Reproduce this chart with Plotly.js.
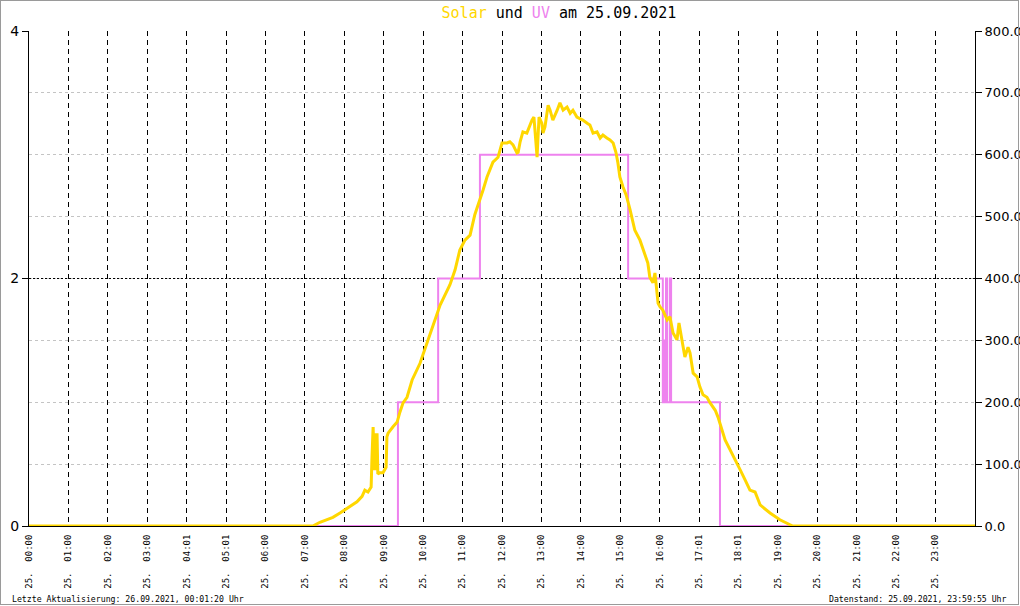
<!DOCTYPE html>
<html>
<head>
<meta charset="utf-8">
<script src="https://cdn.plot.ly/plotly-3.0.1.min.js"></script>
<style>
  html, body { margin: 0; padding: 0; background: #fff; }
  #wrap { position: relative; width: 1020px; height: 606px; }
  #chart { width: 1020px; height: 606px; }
  #frame { position: absolute; left: 0; top: 0; width: 1019px; height: 605px; box-sizing: border-box; border: 1px solid #9a9a9a; pointer-events: none; }
</style>
</head>
<body>
<div id="wrap"><div id="chart"></div><div id="frame"></div></div>
<script>
// Hour ticks and their labels
const tickHours = [0,1,2,3,4,5,6,7,8,9,10,11,12,13,14,15,16,17,18,19,20,21,22,23];
const tickTimes = ["00:00","01:00","02:00","03:00","04:01","05:01","06:00","07:00","08:00","09:00","10:00","11:00",
                   "12:00","13:00","14:00","15:00","16:00","17:01","18:01","19:00","20:00","21:00","22:00","23:00"];
const tickDay = "25.";

// Solar radiation (W/m²), time in hours of 25.09.2021
const solarHours = [0, 7.20, 7.38, 7.71, 7.89, 8.07, 8.32, 8.45, 8.52, 8.60, 8.68, 8.70, 8.73, 8.76, 8.78, 8.80, 8.83, 8.85,
  8.90, 8.98, 9.06, 9.08, 9.11, 9.23, 9.34, 9.41, 9.49, 9.59, 9.72, 9.92, 10.17, 10.30, 10.43, 10.68, 10.81, 10.93,
  11.06, 11.19, 11.31, 11.52, 11.62, 11.77, 11.90, 12.00, 12.13, 12.20, 12.28, 12.38, 12.41, 12.46, 12.53, 12.63,
  12.66, 12.76, 12.81, 12.84, 12.89, 12.91, 12.94, 13.01, 13.04, 13.09, 13.14, 13.17, 13.22, 13.29, 13.40, 13.47,
  13.55, 13.65, 13.73, 13.80, 13.90, 13.98, 14.05, 14.16, 14.23, 14.31, 14.41, 14.49, 14.56, 14.66, 14.74, 14.82,
  14.89, 14.94, 14.99, 15.07, 15.15, 15.25, 15.37, 15.50, 15.58, 15.70, 15.75, 15.83, 15.88, 15.93, 15.96, 16.01,
  16.08, 16.19, 16.26, 16.34, 16.44, 16.49, 16.57, 16.64, 16.72, 16.77, 16.85, 16.95, 17.02, 17.10, 17.20, 17.28,
  17.41, 17.48, 17.66, 17.78, 17.91, 18.04, 18.17, 18.29, 18.42, 18.55, 18.80, 19.05, 19.31, 19.38, 24];
const solarValues = [0, 0, 6, 14, 21, 29, 39, 48, 58, 55, 63, 107, 160, 90, 150, 90, 150, 84,
  86, 86, 95, 144, 150, 160, 168, 184, 199, 208, 236, 263, 309, 333, 357, 390, 414, 446,
  462, 470, 503, 543, 564, 588, 596, 619, 619, 621, 616, 603, 604, 621, 637, 635,
  640, 656, 661, 635, 596, 624, 661, 651, 635, 645, 667, 680, 672, 656, 672, 684,
  672, 677, 667, 672, 661, 659, 656, 651, 648, 635, 637, 627, 632, 627, 624, 619,
  604, 587, 564, 548, 535, 511, 478, 462, 446, 425, 402, 393, 409, 377, 360, 354,
  349, 333, 338, 312, 301, 328, 301, 273, 289, 280, 247, 241, 225, 212, 208, 199,
  187, 176, 139, 123, 107, 91, 74, 58, 55, 34, 21, 10, 2, 0, 0];

// UV index (step values)
const uvHours  = [0, 9.36, 10.38, 11.44, 15.20, 16.08, 16.10, 16.11, 16.13, 16.14, 16.16, 16.19, 16.26, 16.29, 17.53, 24];
const uvValues = [0, 1,    2,     3,     2,     1,     1.5,   1,     1.5,   1,     2,     1,     2,     1,     0,     0];

const solarTrace = {
  x: solarHours, y: solarValues, yaxis: 'y2', type: 'scatter', mode: 'lines',
  line: { color: '#FFD700', width: 3 }, name: 'Solar', hoverinfo: 'skip'
};
const uvTrace = {
  x: uvHours, y: uvValues, yaxis: 'y', type: 'scatter', mode: 'lines',
  line: { color: '#EE82EE', width: 2, shape: 'hv' }, name: 'UV', hoverinfo: 'skip'
};

const tickText = tickTimes.map(t => tickDay + '\u00a0\u00a0' + t);

const layout = {
  width: 1020, height: 606,
  paper_bgcolor: '#ffffff', plot_bgcolor: '#ffffff',
  margin: { l: 29, r: 45, t: 31, b: 80, pad: 0 },
  showlegend: false,
  title: {
    text: '<span style="color:#FFD700">Solar</span> und <span style="color:#EE82EE">UV</span> am 25.09.2021',
    font: { family: 'DejaVu Sans Mono', size: 15, color: '#000' },
    x: 0.548, xanchor: 'center', xref: 'container',
    y: 0.979, yanchor: 'middle', yref: 'container'
  },
  xaxis: {
    range: [0, 24], tickmode: 'array', tickvals: tickHours, ticktext: tickText,
    tickangle: -90, ticks: '', ticklabelstandoff: 4,
    tickfont: { family: 'DejaVu Sans Mono', size: 9, color: '#000' },
    showgrid: true, gridcolor: '#000', gridwidth: 1, griddash: '5px,4px',
    zeroline: false, showline: true, linecolor: '#000', linewidth: 1, fixedrange: true
  },
  yaxis: {
    range: [0, 4], tickmode: 'array', tickvals: [0, 2, 4], ticktext: ['0', '2', '4'],
    ticks: 'outside', ticklen: 6, tickcolor: '#000',
    tickfont: { family: 'DejaVu Sans', size: 14, color: '#000' },
    showgrid: true, gridcolor: '#000', gridwidth: 1, griddash: '2px,2px',
    minor: { dtick: 0.5, tick0: 0, showgrid: true, gridcolor: '#c4c4c4', griddash: '3px,3px', ticks: '' },
    zeroline: false, showline: true, linecolor: '#000', linewidth: 1, fixedrange: true
  },
  yaxis2: {
    range: [0, 800], overlaying: 'y', side: 'right', dtick: 100, tickformat: '.1f',
    ticks: 'outside', ticklen: 6, tickcolor: '#000',
    tickfont: { family: 'DejaVu Sans', size: 13, color: '#000' },
    showgrid: false, zeroline: false, showline: true, linecolor: '#000', linewidth: 1, fixedrange: true
  },
  annotations: [
    { xref: 'paper', yref: 'paper', x: -0.0201, y: -0.1475, xanchor: 'left', yanchor: 'middle', showarrow: false,
      text: 'Letzte Aktualisierung: 26.09.2021, 00:01:20 Uhr', font: { family: 'DejaVu Sans Mono', size: 8.2, color: '#000' } },
    { xref: 'paper', yref: 'paper', x: 1.036, y: -0.1475, xanchor: 'right', yanchor: 'middle', showarrow: false,
      text: 'Datenstand: 25.09.2021, 23:59:55 Uhr', font: { family: 'DejaVu Sans Mono', size: 8.2, color: '#000' } }
  ]
};

Plotly.newPlot('chart', [solarTrace, uvTrace], layout, { displayModeBar: false, staticPlot: true });
</script>
</body>
</html>
